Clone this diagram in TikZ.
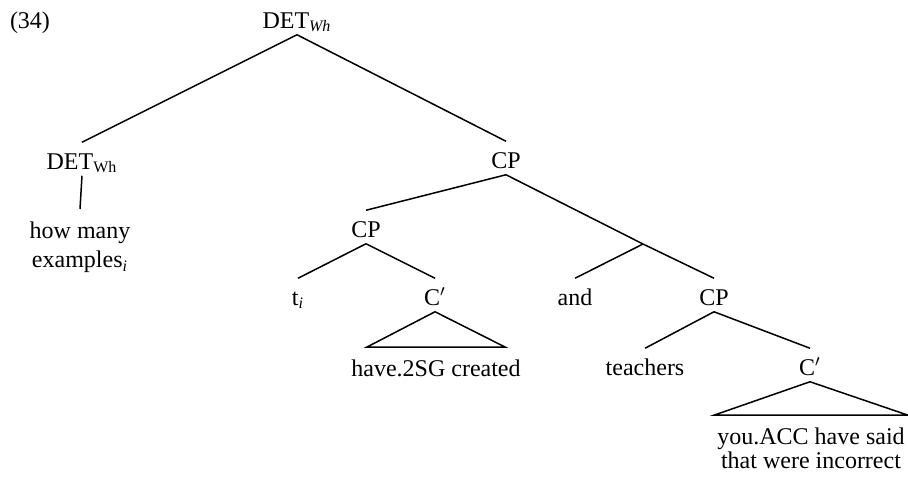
\documentclass[tikz,border=0pt]{standalone}
\usepackage{fontspec}
\setmainfont{Liberation Serif}
\usetikzlibrary{positioning}

\begin{document}
\begin{tikzpicture}[on grid,
			line width=0.75pt,
			every node/.style={font=\fontsize{12}{14.5}\selectfont},
			cat/.style={text height=10pt, text depth=0pt, inner ysep=3pt, inner xsep=1pt},
			leaf/.style={align=center, inner ysep=6pt, inner xsep=1pt, anchor=north}]
	\useasboundingbox (0,0) rectangle (454pt,-239.5pt);
	\node [cat] (root) at (148.5pt,-9pt) {DET\textsubscript{\textit{Wh}}};
	\node [cat, left=133.5pt of root] (ex) {(34)};
	\node [cat, below left=70.5pt and 107.5pt of root] (detwh) {DET\textsubscript{Wh}};
	\node [below left=25pt and 1pt of detwh, leaf] (howmany) {how many\\examples\textsubscript{\textit{i}}};
	\node [cat, below right=70pt and 104.5pt of root] (cptop) {CP};
	\node [cat, below left=34.5pt and 70pt of cptop] (cpleft) {CP};
	\node [cat, below left=34pt and 34pt of cpleft] (trace) {t\textsubscript{\textit{i}}};
	\node [cat, below right=34pt and 34.5pt of cpleft] (cbarleft) {C$'$};
	\node [below right=26pt and 0.5pt of cbarleft, leaf] (created) {have.2SG created};
	\coordinate [below right=43pt and 68.5pt of cptop] (conj);
	\node [cat, below right=68.5pt and 34.5pt of cptop] (and) {and};
	\node [cat, below right=68.5pt and 104pt of cptop] (cpright) {CP};
	\node [cat, below left=35pt and 34.5pt of cpright] (teachers) {teachers};
	\node [cat, below right=35pt and 48pt of cpright] (cbarright) {C$'$};
	\node [below right=25pt and 0.5pt of cbarright, leaf] (said) {you.ACC have said\\[-2.5pt]that were incorrect};
	\path [draw]
		(root.south) edge (detwh.north)
		(root.south) edge (cptop.north)
		(detwh.south) edge (howmany.north)
		(cptop.south) edge (cpleft.north)
		(cptop.south) edge (conj)
		(conj) edge (and.north)
		(conj) edge (cpright.north)
		(cpleft.south) edge (trace.north)
		(cpleft.south) edge (cbarleft.north)
		(cpright.south) edge (teachers.north)
		(cpright.south) edge (cbarright.north);
	% triangles
	\draw (cbarleft.south) -- ([xshift=-34.5pt]created.north) -- ([xshift=34.5pt]created.north) -- cycle;
	\draw (cbarright.south) -- ([xshift=-48.25pt]said.north) -- ([xshift=48.25pt]said.north) -- cycle;
\end{tikzpicture}
\end{document}
